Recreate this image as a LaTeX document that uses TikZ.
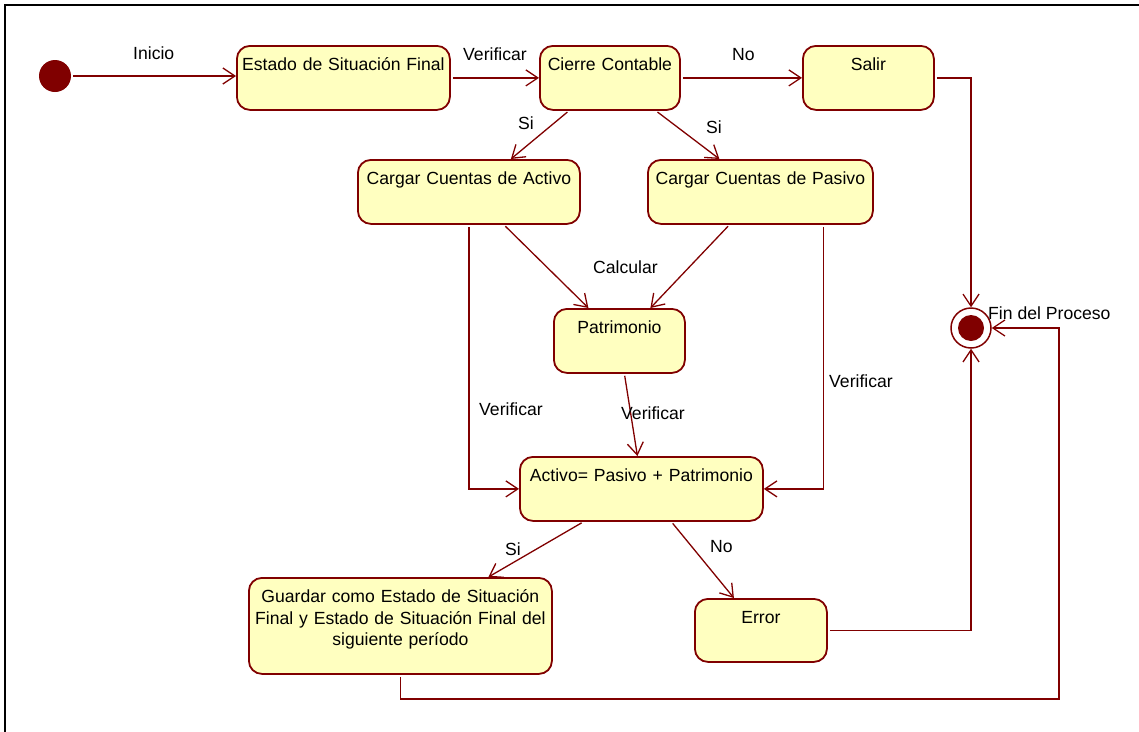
\documentclass[tikz,border=0pt]{standalone}
\usepackage{fontspec}
\setmainfont{Liberation Sans}
\usepackage{tikz}
\usetikzlibrary{arrows.meta, positioning, calc}
\definecolor{linea}{RGB}{128, 0, 0}
\definecolor{relleno}{RGB}{255, 255, 192}

\begin{document}
\begin{tikzpicture}[
    x=1pt, y=-1pt,
    statebox/.style={rectangle, draw=linea, fill=relleno, line width=1.8pt, rounded corners=13pt, anchor=north west, inner xsep=0pt, inner ysep=0pt, align=center, text width=#1, text height=25pt, text depth=39pt, font=\fontsize{17.6}{21.5}\selectfont},
    lbl/.style={anchor=base west, inner sep=0pt, font=\fontsize{17.6}{21.5}\selectfont},
    arr/.style={-{Straight Barb[length=12pt, width=16pt]}, line width=1.3pt, color=linea, shorten <=2pt}
]
    \useasboundingbox (0,0) rectangle (1139,731);
    \draw[black, line width=2pt] (5,5) rectangle (1160,750);

    \node[circle, fill=linea, minimum size=32pt, inner sep=0pt] (ini) at (55,76) {};
    \node[statebox=213pt] (estado) at (236,45) {Estado de Situación Final};
    \node[statebox=140pt] (cierre) at (539,45) {Cierre Contable};
    \node[statebox=131pt] (salir) at (802,45) {Salir};

    \node[statebox=222pt] (activo) at (357,159) {Cargar Cuentas de Activo};
    \node[statebox=225pt] (pasivo) at (647,159) {Cargar Cuentas de Pasivo};
    \node[statebox=131pt] (patrimonio) at (553,308) {Patrimonio};
    \node[statebox=243pt] (ecuacion) at (519,456) {Activo= Pasivo + Patrimonio};
    \node[statebox=303pt, text depth=71pt] (guardar) at (248,577) {Guardar como Estado de Situación\\Final y Estado de Situación Final del\\siguiente período};
    \node[statebox=132pt, text depth=38pt] (error) at (694,598) {Error};

    \node[circle, draw=linea, fill=white, line width=1.5pt, minimum size=40pt, inner sep=0pt] (fin) at (971,328) {};
    \fill[linea] (fin.center) circle (13pt);
    \coordinate (retorno) at (1059,699);

    \draw[arr] (ini.east) -- (ini.east -| estado.west);
    \draw[arr] (estado) -- (cierre);
    \draw[arr] (cierre) -- (salir);
    \draw[arr] ([xshift=-41pt]cierre.south) -- ([xshift=42pt]activo.north);
    \draw[arr] ([xshift=46pt]cierre.south) -- ([xshift=-41pt]pasivo.north);
    \draw[arr] (salir.east) -| (fin.north);
    \draw[arr] ([xshift=35pt]activo.south) -- ([xshift=-31pt]patrimonio.north);
    \draw[arr] ([xshift=-31pt]pasivo.south) -- ([xshift=31pt]patrimonio.north);
    \draw[arr] (activo.south) |- (ecuacion.west);
    \draw[arr] ([xshift=63pt]pasivo.south) |- (ecuacion.east);
    \draw[arr] ([xshift=5pt]patrimonio.south) -- ([xshift=-4pt]ecuacion.north);
    \draw[arr] ([xshift=-58pt]ecuacion.south) -- ([xshift=88pt]guardar.north);
    \draw[arr] ([xshift=30pt]ecuacion.south) -- ([xshift=-27pt]error.north);
    \draw[arr] (error.east) -| (fin.south);
    \draw[arr] (guardar.south) |- (retorno) |- (fin.east);

    \node[lbl] (tInicio) at (133,59) {Inicio};
    \node[lbl] (tVerifica) at (463,60) {Verificar};
    \node[lbl] (tNoSalir) at (732,60) {No};
    \node[lbl] (tSiActivo) at (518,129) {Si};
    \node[lbl] (tSiPasivo) at (706,133) {Si};
    \node[lbl] (tCalcular) at (593,273) {Calcular};
    \node[lbl] (tVerActivo) at (479,415) {Verificar};
    \node[lbl] (tVerPatrim) at (621,419) {Verificar};
    \node[lbl] (tVerPasivo) at (829,387) {Verificar};
    \node[lbl] (tSiGuardar) at (505,555) {Si};
    \node[lbl] (tNoError) at (710,552) {No};
    \node[lbl] (tFin) at (988,319) {Fin del Proceso};
\end{tikzpicture}
\end{document}
